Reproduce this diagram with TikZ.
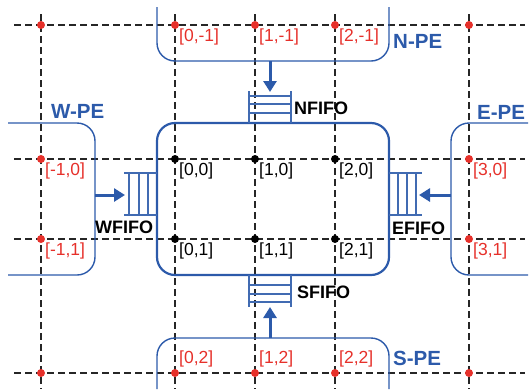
\documentclass[tikz,border=0pt]{standalone}
\usepackage{fontspec}
\setmainfont{Liberation Sans}
\usetikzlibrary{arrows.meta}
\definecolor{peblue}{RGB}{44,90,170}
\definecolor{dotred}{RGB}{230,48,42}
\tikzset{
    gridline/.style={black!85, line width=1.2pt, dash pattern=on 7pt off 4pt},
    pebox/.style={peblue, line width=1.4pt, rounded corners=18pt},
    fifoline/.style={peblue!90, line width=1.1pt},
    flow/.style={peblue, line width=3pt, -{Triangle[length=11pt,width=13pt]}},
    gridlab/.style={font=\fontsize{17.5}{19}\selectfont, inner sep=0pt},
    pelab/.style={peblue, font=\fontsize{20.5}{22}\bfseries\selectfont, inner sep=0pt, anchor=west},
    fifolab/.style={font=\fontsize{18}{20}\bfseries\selectfont, inner sep=0pt, anchor=west},
}
\begin{document}
\begin{tikzpicture}[x=1pt, y=-1pt]
        \useasboundingbox (0,0) rectangle (529,389);

                \foreach \y in {25, 159, 239, 373} {
                    \draw[gridline] (14,\y) -- (525,\y);
                }

                \foreach \x in {41, 175, 255, 335, 469} {
                    \draw[gridline] (\x,14) -- (\x,389);
                }

                % processing elements
                \draw[pebox, line width=2.2pt] (157,123) rectangle (389,275);
                \draw[pebox] (157,7) -- (157,61) -- (389,61) -- (389,7);
                \draw[pebox] (157,389) -- (157,338) -- (389,338) -- (389,389);
                \draw[pebox] (8,123) -- (95,123) -- (95,275) -- (8,275);
                \draw[pebox] (528,123) -- (451,123) -- (451,275) -- (528,275);

                % fifos
                \draw[fifoline] (249,91) -- (249,123) (291,91) -- (291,123);
                \foreach \y in {96, 104, 113} {
                    \draw[fifoline] (249,\y) -- (291,\y);
                }
                \draw[fifoline] (249,275) -- (249,307) (291,275) -- (291,307);
                \foreach \y in {285, 294, 302} {
                    \draw[fifoline] (249,\y) -- (291,\y);
                }
                \draw[fifoline] (124,173) -- (157,173) (124,215) -- (157,215);
                \foreach \x in {129, 139, 148} {
                    \draw[fifoline] (\x,173) -- (\x,215);
                }
                \draw[fifoline] (389,173) -- (422,173) (389,215) -- (422,215);
                \foreach \x in {398, 407, 416} {
                    \draw[fifoline] (\x,173) -- (\x,215);
                }

                \coordinate (npe) at (270,61);
                \coordinate (nfifo) at (270,92);
                \coordinate (spe) at (270,338);
                \coordinate (sfifo) at (270,307);
                \coordinate (wpe) at (95,195);
                \coordinate (wfifo) at (125,195);
                \coordinate (epe) at (451,195);
                \coordinate (efifo) at (419,195);
                \draw[flow] (npe) -- (nfifo);
                \draw[flow] (spe) -- (sfifo);
                \draw[flow] (wpe) -- (wfifo);
                \draw[flow] (epe) -- (efifo);

                \node[pelab] (npelab) at (393,41) {N-PE};
                \node[pelab] (spelab) at (393,358) {S-PE};
                \node[pelab] (wpelab) at (51,111) {W-PE};
                \node[pelab] (epelab) at (477,112) {E-PE};

                \node[fifolab] (nfifolab) at (294,108) {NFIFO};
                \node[fifolab] (sfifolab) at (297,292) {SFIFO};
                \node[fifolab] (wfifolab) at (95,227) {WFIFO};
                \node[fifolab] (efifolab) at (392,228) {EFIFO};

                % grid points
                \foreach \x in {41, 175, 255, 335, 469} {
                    \fill[dotred] (\x,25) circle (4pt);
                    \fill[dotred] (\x,373) circle (4pt);
                }
                \foreach \x in {41, 469} {
                    \fill[dotred] (\x,159) circle (4pt);
                    \fill[dotred] (\x,239) circle (4pt);
                }
                \foreach \x in {175, 255, 335} {
                    \foreach \y in {159, 239} {
                        \fill (\x,\y) circle (4pt);
                    }
                }

                \foreach \x/\i in {175/0, 255/1, 335/2} {
                    \node[gridlab, dotred, anchor=north west] (top-\i) at (\x+4,29) {[\i,-1]};
                    \node[gridlab, dotred, anchor=south west] (bot-\i) at (\x+4,367) {[\i,2]};
                    \foreach \y/\j in {159/0, 239/1} {
                        \node[gridlab, anchor=north west] (in-\i\j) at (\x+4,\y+4) {[\i,\j]};
                    }
                }
                \foreach \y/\j in {159/0, 239/1} {
                    \node[gridlab, dotred, anchor=north west] (left-\j) at (45,\y+4) {[-1,\j]};
                    \node[gridlab, dotred, anchor=north west] (right-\j) at (473,\y+4) {[3,\j]};
                }

            \end{tikzpicture}
\end{document}
